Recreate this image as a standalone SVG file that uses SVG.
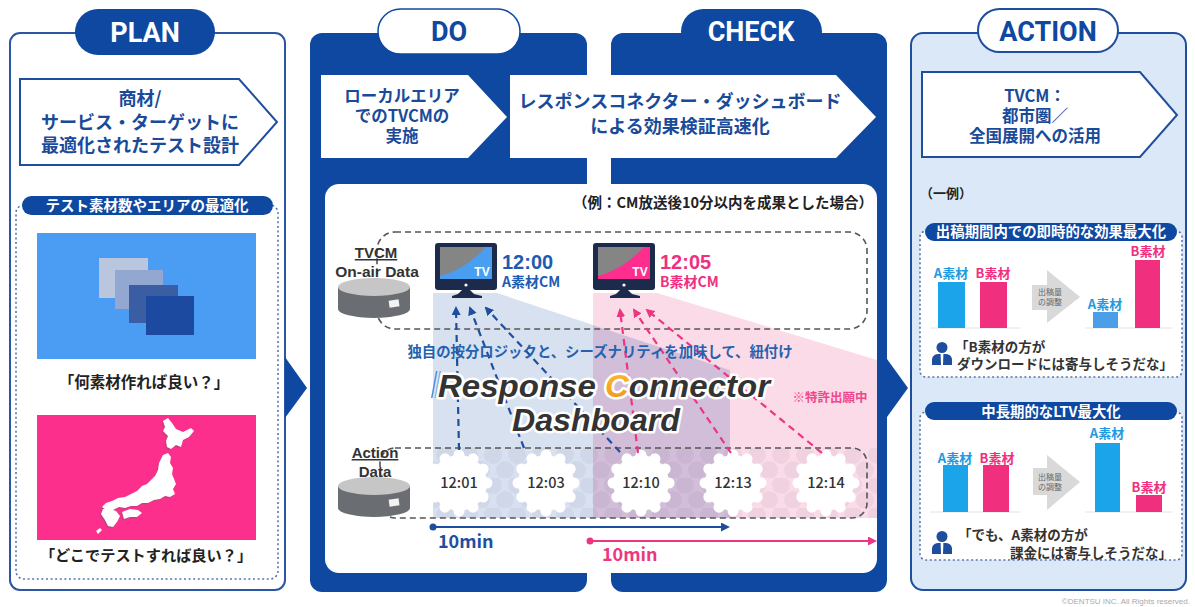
<svg xmlns="http://www.w3.org/2000/svg" width="1195" height="607" viewBox="0 0 1195 607">
<defs>
<style>
.jp{font-family:"Noto Sans CJK JP","Noto Sans",sans-serif;font-weight:700}
.head{font-family:Roboto,"Liberation Sans",sans-serif;font-weight:700;font-size:27px;text-anchor:middle}
.mid{text-anchor:middle}
.navyf{fill:#0f48a1}
.chev{fill:#fff;stroke:#1f4e9e;stroke-width:2}
.chevtxt{fill:#1a4a9a;text-anchor:middle}
.dotbox{fill:none;stroke:#5a74a8;stroke-width:1.6;stroke-dasharray:2 2.6}
.dash{fill:none;stroke:#555;stroke-width:1.6;stroke-dasharray:6 4}
.blue{fill:#1e5bb0}
.pink{fill:#f0307f}
.barA{fill:#1ca4ea}
.barB{fill:#f0307f}
.lblA{fill:#1e9be0;font-size:13px}
.lblB{fill:#f0307f;font-size:13px}
.time{font-family:"Noto Sans CJK JP","Noto Sans",sans-serif;font-weight:500;font-size:14.5px;fill:#333;text-anchor:middle}
.quote{fill:#333;font-size:13.5px}
.conB{fill:none;stroke:#1e4f9e;stroke-width:2.2;stroke-dasharray:7 5}
.conP{fill:none;stroke:#ee3582;stroke-width:2.2;stroke-dasharray:7 5}
.small{fill:#666;font-size:8px;font-weight:400;text-anchor:middle}
.base{stroke:#e2e2e2;stroke-width:1}
</style>
<marker id="ahB" markerWidth="9" markerHeight="9" refX="7" refY="4.5" orient="auto" markerUnits="userSpaceOnUse">
<path d="M0,0 L9,4.5 L0,9 Z" fill="#1e4f9e"/>
</marker>
<marker id="ahP" markerWidth="9" markerHeight="9" refX="7" refY="4.5" orient="auto" markerUnits="userSpaceOnUse">
<path d="M0,0 L9,4.5 L0,9 Z" fill="#ee3582"/>
</marker>
<pattern id="bubbles" width="24" height="30" patternUnits="userSpaceOnUse" x="433" y="448">
<circle cx="12" cy="7" r="9" fill="#3c3278" fill-opacity="0.06"/>
<circle cx="0" cy="22" r="9" fill="#3c3278" fill-opacity="0.06"/>
<circle cx="24" cy="22" r="9" fill="#3c3278" fill-opacity="0.06"/>
</pattern>
<g id="blob" fill="#fff">
<circle r="28"/>
<circle cx="28" cy="0" r="5.5"/><circle cx="24.2" cy="14" r="5.5"/><circle cx="14" cy="24.2" r="5.5"/>
<circle cx="0" cy="28" r="5.5"/><circle cx="-14" cy="24.2" r="5.5"/><circle cx="-24.2" cy="14" r="5.5"/>
<circle cx="-28" cy="0" r="5.5"/><circle cx="-24.2" cy="-14" r="5.5"/><circle cx="-14" cy="-24.2" r="5.5"/>
<circle cx="0" cy="-28" r="5.5"/><circle cx="14" cy="-24.2" r="5.5"/><circle cx="24.2" cy="-14" r="5.5"/>
</g>
<g id="cyl">
<path d="M-36,0 V22 A36,9 0 0 0 36,22 V0 Z" fill="#6a6d72"/>
<ellipse cx="0" cy="0" rx="36" ry="9" fill="#c6c6c6"/>
<rect x="15" y="13" width="10" height="7" fill="#f2f2f2" transform="rotate(-8 20 16)"/>
</g>
<g id="tvframe">
<rect x="0" y="0" width="62" height="47" rx="3" fill="#1c2a4c"/>
<rect x="5" y="4" width="52" height="32" fill="#858585"/>
<circle cx="31" cy="42" r="1.6" fill="#fff"/>
<path d="M27,47 H35 L39,51 L47,53 V55 H17 V53 L23,51 Z" fill="#1c2a4c"/>
</g>
<g id="person" fill="#1f4e9e">
<circle cx="10" cy="5.5" r="5.5"/>
<path d="M0,23 V17 A7,6 0 0 1 7,12 H13 A7,6 0 0 1 20,17 V23 Z"/>
<path d="M8.6,12 H11.4 L11,23 H9 Z" fill="#fff"/>
</g>
<linearGradient id="corange" x1="0" y1="0" x2="1" y2="1">
<stop offset="0" stop-color="#ffd23a"/>
<stop offset="1" stop-color="#f07d12"/>
</linearGradient>
</defs>

<rect width="1195" height="607" fill="#fff"/>

<!-- PLAN column -->
<g id="plan">
<rect x="10" y="33" width="275" height="557" rx="10" fill="#fff" stroke="#2a56a3" stroke-width="2"/>
<rect x="75" y="9" width="140" height="46" rx="23" class="navyf"/>
<text x="145" y="42" class="head" fill="#fff">PLAN</text>
<path d="M20,79 H239 L277,122 L239,165 H20 Z" class="chev"/>
<g class="jp chevtxt" font-size="18">
<text x="140" y="105">商材/</text>
<text x="140" y="129">サービス・ターゲットに</text>
<text x="140" y="152">最適化されたテスト設計</text>
</g>
<rect x="16" y="205" width="262" height="374" rx="8" class="dotbox"/>
<rect x="22" y="196" width="251" height="19" rx="9.5" class="navyf"/>
<text x="147" y="210.5" class="jp mid" font-size="14.5" fill="#fff">テスト素材数やエリアの最適化</text>
<rect x="37" y="233" width="219" height="126" fill="#4a9df2"/>
<rect x="99" y="258" width="49" height="40" fill="#b9c6de"/>
<rect x="115" y="270" width="48" height="39" fill="#93a8d0"/>
<rect x="129" y="285" width="49" height="38" fill="#3a5da3"/>
<rect x="146" y="296" width="48" height="39" fill="#1b4aa0"/>
<text x="144" y="388" class="jp mid" font-size="15.5" fill="#222">「何素材作れば良い？」</text>
<rect x="37" y="415" width="219" height="125" fill="#fd2f8d"/>
<g transform="translate(-1.4,1.4)" fill="#9b4d78" opacity="0.55">
<path d="M163,421 L168,418 L172,423 L176,429 L183,432 L191,428 L194,431 L189,437 L183,440 L181,447 L176,445 L171,449 L167,447 L166,441 L168,436 L163,431 L165,427 Z"/>
<path d="M163,455 L168,453 L171,457 L170,463 L173,468 L172,474 L174,479 L176,484 L173,489 L175,494 L170,497 L165,496 L160,499 L154,500 L148,503 L142,503 L137,506 L131,506 L125,508 L119,507 L113,510 L106,510 L102,507 L106,503 L112,501 L118,498 L125,497 L131,494 L137,491 L142,486 L147,484 L151,480 L155,476 L158,470 L159,463 L161,459 Z"/>
<path d="M122,512 L130,509 L138,510 L142,513 L137,517 L130,517 L124,519 Z"/>
<path d="M103,509 L110,509 L116,511 L120,516 L117,522 L113,527 L108,526 L105,520 L101,514 Z"/>
</g>
<g fill="#fff">
<path d="M163,421 L168,418 L172,423 L176,429 L183,432 L191,428 L194,431 L189,437 L183,440 L181,447 L176,445 L171,449 L167,447 L166,441 L168,436 L163,431 L165,427 Z"/>
<path d="M163,455 L168,453 L171,457 L170,463 L173,468 L172,474 L174,479 L176,484 L173,489 L175,494 L170,497 L165,496 L160,499 L154,500 L148,503 L142,503 L137,506 L131,506 L125,508 L119,507 L113,510 L106,510 L102,507 L106,503 L112,501 L118,498 L125,497 L131,494 L137,491 L142,486 L147,484 L151,480 L155,476 L158,470 L159,463 L161,459 Z"/>
<path d="M122,512 L130,509 L138,510 L142,513 L137,517 L130,517 L124,519 Z"/>
<path d="M103,509 L110,509 L116,511 L120,516 L117,522 L113,527 L108,526 L105,520 L101,514 Z"/>
<path d="M96,531 L100,528 L102,530 L98,534 Z"/>
</g>
<text x="146" y="561" class="jp mid" font-size="15.2" fill="#222">「どこでテストすれば良い？」</text>
</g>

<!-- DO column -->
<g id="do">
<rect x="310" y="33" width="277" height="559" rx="12" class="navyf"/>
<rect x="378" y="9" width="142" height="45" rx="22.5" fill="#fff" stroke="#0f48a1" stroke-width="1.5"/>
<text x="449" y="41" class="head" fill="#0f48a1">DO</text>
<path d="M321,75 H468 L507,117 L468,158 H321 Z" fill="#fff"/>
<g class="jp chevtxt" font-size="16.5">
<text x="402" y="102">ローカルエリア</text>
<text x="402" y="122">でのTVCMの</text>
<text x="402" y="142">実施</text>
</g>
</g>

<!-- CHECK column -->
<g id="check">
<rect x="611" y="33" width="276" height="559" rx="12" class="navyf"/>
<rect x="681" y="9" width="141" height="45" rx="22.5" class="navyf"/>
<text x="751" y="41" class="head" fill="#fff">CHECK</text>
<path d="M510,75 H836 L876,117 L836,158 H510 Z" fill="#fff"/>
<g class="jp chevtxt" font-size="18">
<text x="680" y="108">レスポンスコネクター・ダッシュボード</text>
<text x="680" y="133">による効果検証高速化</text>
</g>
</g>

<!-- Response Connector Dashboard card -->
<g id="dashboard-card">
<rect x="325" y="184" width="552" height="389" rx="14" fill="#fff"/>
<text x="873" y="208" class="jp" font-size="14.5" fill="#222" text-anchor="end">（例：CM放送後10分以内を成果とした場合）</text>
<!-- attribution areas -->
<path d="M433,293 H497 L593,325 V518 H433 Z" fill="#d8e1f0"/>
<path d="M593,293 H657 L877,360 V518 H730 V370 L593,325 Z" fill="#fbdbe7"/>
<path d="M593,325 L730,370 V518 H593 Z" fill="#d2bed8"/>
<rect x="433" y="448" width="444" height="70" fill="url(#bubbles)"/>
<use href="#blob" x="459" y="483"/>
<use href="#blob" x="546" y="483"/>
<use href="#blob" x="641" y="483"/>
<use href="#blob" x="733" y="483"/>
<use href="#blob" x="826" y="483"/>
<rect x="377" y="232" width="490" height="97" rx="18" class="dash"/>
<rect x="380" y="448" width="487" height="70" rx="15" class="dash"/>
</g>

<g id="tvcm-data">
<use href="#cyl" x="374" y="287"/>
<text x="376" y="258" font-family="Liberation Sans,Arial,sans-serif" font-weight="700" font-size="15" fill="#333" class="mid" text-decoration="underline">TVCM</text>
<text x="377" y="277" font-family="Liberation Sans,Arial,sans-serif" font-weight="700" font-size="15.5" fill="#333" class="mid">On-air Data</text>
</g>

<g id="action-data">
<use href="#cyl" x="374" y="486"/>
<text x="375" y="458" font-family="Liberation Sans,Arial,sans-serif" font-weight="700" font-size="15" fill="#333" class="mid" text-decoration="underline">Action</text>
<text x="375" y="477" font-family="Liberation Sans,Arial,sans-serif" font-weight="700" font-size="15" fill="#333" class="mid">Data</text>
</g>

<g id="tv-a">
<use href="#tvframe" x="435" y="243"/>
<path d="M486,247 C472,262 456,272 440,276 V279 H492 V247 Z" fill="#4a9ef0"/>
<text x="482" y="276" font-family="Liberation Sans,Arial,sans-serif" font-weight="700" font-size="12" fill="#fff" class="mid">TV</text>
<text x="502" y="269" font-family="Liberation Sans,Arial,sans-serif" font-weight="700" font-size="20" class="blue">12:00</text>
<text x="502" y="287" class="jp blue" font-size="14">A素材CM</text>
</g>

<g id="tv-b">
<use href="#tvframe" x="593" y="243"/>
<path d="M644,247 C630,262 614,272 598,276 V279 H650 V247 Z" fill="#ff2d8e"/>
<text x="640" y="276" font-family="Liberation Sans,Arial,sans-serif" font-weight="700" font-size="12" fill="#fff" class="mid">TV</text>
<text x="660" y="269" font-family="Liberation Sans,Arial,sans-serif" font-weight="700" font-size="20" class="pink">12:05</text>
<text x="660" y="287" class="jp pink" font-size="14">B素材CM</text>
</g>

<!-- connectors -->
<g id="connectors">
<path d="M285,357 L307,388 L285,418 Z" fill="#0f48a1"/>
<path d="M887,359 L908,388 L887,417 Z" fill="#0f48a1"/>
<path d="M459,450 L456,308" class="conB" marker-end="url(#ahB)"/>
<path d="M524,448 L470,308" class="conB" marker-end="url(#ahB)"/>
<path d="M620,452 L486,308" class="conB" marker-end="url(#ahB)"/>
<path d="M638,453 L620,310" class="conP" marker-end="url(#ahP)"/>
<path d="M731,453 L634,310" class="conP" marker-end="url(#ahP)"/>
<path d="M822,453 L647,310" class="conP" marker-end="url(#ahP)"/>
<circle cx="433" cy="527" r="3.5" fill="#1e4f9e"/>
<path d="M433,527 H728" stroke="#1e4f9e" stroke-width="2.2" marker-end="url(#ahB)"/>
<circle cx="590" cy="541" r="3.5" fill="#ee3582"/>
<path d="M590,541 H875" stroke="#ee3582" stroke-width="2.2" marker-end="url(#ahP)"/>
</g>

<g id="dashboard-labels">
<text x="459" y="488" class="time">12:01</text>
<text x="546" y="488" class="time">12:03</text>
<text x="641" y="488" class="time">12:10</text>
<text x="733" y="488" class="time">12:13</text>
<text x="826" y="488" class="time">12:14</text>
<text x="600" y="357" class="jp mid" font-size="14.4" fill="#2462b0">独自の按分ロジックと、シーズナリティを加味して、紐付け</text>
<g fill="#4a8fe0">
<path d="M431,398 L436,371 L437.5,371 L432.5,398 Z"/>
<path d="M434.5,398 L439.5,371 L441,371 L436,398 Z" opacity="0.6"/>
</g>
<g font-family="Liberation Sans,Arial,sans-serif" font-weight="700" font-style="italic" font-size="31" fill="#333" stroke="#fff" stroke-width="5" stroke-linejoin="round" paint-order="stroke">
<text x="438" y="397" textLength="332" lengthAdjust="spacingAndGlyphs">Response <tspan fill="url(#corange)">C</tspan>onnector</text>
<text x="512" y="431" textLength="168" lengthAdjust="spacingAndGlyphs">Dashboard</text>
</g>
<text x="830" y="402" class="jp mid" font-size="12.5" fill="#f0468c">※特許出願中</text>
<text x="438" y="548" class="jp" font-size="18" fill="#1e4f9e">10min</text>
<text x="602" y="561" class="jp" font-size="18" fill="#ee3582">10min</text>
</g>

<!-- ACTION column -->
<g id="action">
<rect x="911" y="33" width="275" height="557" rx="12" fill="#dbe8f7" stroke="#1f4e9e" stroke-width="2"/>
<rect x="978" y="9" width="140" height="43" rx="21.5" fill="#fff" stroke="#1f4e9e" stroke-width="2"/>
<text x="1048" y="41" class="head" fill="#0f48a1">ACTION</text>
<path d="M922,72 H1140 L1177,115 L1140,157 H922 Z" class="chev"/>
<g class="jp chevtxt" font-size="16.5">
<text x="1035" y="102">TVCM：</text>
<text x="1035" y="122">都市圏／</text>
<text x="1035" y="142">全国展開への活用</text>
</g>
<text x="920" y="198" class="jp" font-size="13" fill="#222">（一例）</text>
</g>

<g id="action-short-term">
<rect x="920" y="231" width="262" height="146" rx="6" class="dotbox" style="fill:#fff"/>
<rect x="925" y="223" width="252" height="18" rx="9" class="navyf"/>
<text x="1051" y="237" class="jp mid" font-size="14.4" fill="#fff">出稿期間内での即時的な効果最大化</text>
<line x1="930" y1="328" x2="1020" y2="328" class="base"/>
<line x1="1085" y1="328" x2="1172" y2="328" class="base"/>
<rect x="938" y="282" width="27" height="46" class="barA"/>
<rect x="980" y="282" width="27" height="46" class="barB"/>
<text x="951" y="278" class="jp mid lblA">A素材</text>
<text x="993" y="278" class="jp mid lblB">B素材</text>
<path d="M1032,285 H1047 V270 L1080,297 L1047,323 V310 H1032 Z" fill="#d9d9d9"/>
<text x="1050" y="295" class="jp small">出稿量</text>
<text x="1050" y="305" class="jp small">の調整</text>
<rect x="1093" y="312" width="25" height="16" fill="#4b9ee8"/>
<rect x="1135" y="260" width="25" height="68" class="barB"/>
<text x="1105" y="309" class="jp mid lblA">A素材</text>
<text x="1148" y="256" class="jp mid lblB">B素材</text>
<use href="#person" x="932" y="342"/>
<text x="955" y="352" class="jp quote">「B素材の方が</text>
<text x="1173" y="369" class="jp quote" text-anchor="end">ダウンロードには寄与しそうだな」</text>
</g>

<g id="action-long-term">
<rect x="920" y="412" width="262" height="148" rx="6" class="dotbox" style="fill:#fff"/>
<rect x="925" y="402" width="252" height="18" rx="9" class="navyf"/>
<text x="1051" y="416.5" class="jp mid" font-size="14.4" fill="#fff">中長期的なLTV最大化</text>
<line x1="930" y1="512" x2="1020" y2="512" class="base"/>
<line x1="1085" y1="512" x2="1172" y2="512" class="base"/>
<rect x="943" y="465" width="25" height="47" class="barA"/>
<rect x="983" y="465" width="26" height="47" class="barB"/>
<text x="955" y="463" class="jp mid lblA">A素材</text>
<text x="997" y="463" class="jp mid lblB">B素材</text>
<path d="M1033,468 H1047 V455 L1080,482 L1047,510 V495 H1033 Z" fill="#d9d9d9"/>
<text x="1050" y="480" class="jp small">出稿量</text>
<text x="1050" y="490" class="jp small">の調整</text>
<rect x="1095" y="443" width="25" height="69" class="barA"/>
<rect x="1136" y="495" width="26" height="17" class="barB"/>
<text x="1107" y="438" class="jp mid lblA">A素材</text>
<text x="1149" y="492" class="jp mid lblB">B素材</text>
<use href="#person" x="932" y="531"/>
<text x="958" y="540" class="jp quote">「でも、A素材の方が</text>
<text x="1172" y="558" class="jp quote" text-anchor="end">課金には寄与しそうだな」</text>
</g>

<text x="1190" y="604" font-family="Liberation Sans,Arial,sans-serif" font-size="8" fill="#aaa" text-anchor="end">©DENTSU INC. All Rights reserved.</text>
</svg>
